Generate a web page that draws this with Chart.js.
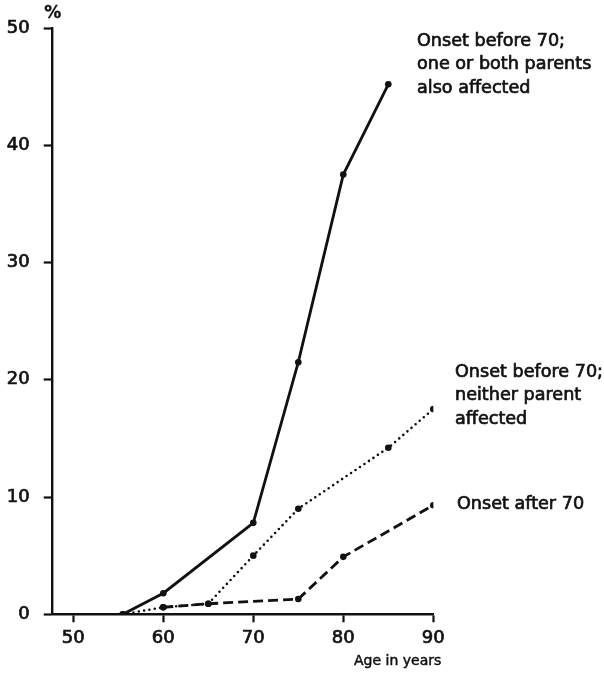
<!DOCTYPE html>
<html>
<head>
<meta charset="utf-8">
<script src="https://cdn.jsdelivr.net/npm/chart.js@4.4.1/dist/chart.umd.min.js"></script>
<style>
  html, body { margin: 0; padding: 0; background: #fff; }
  canvas { display: block; }
</style>
</head>
<body>
<canvas id="c" width="604" height="673"></canvas>
<script>
// Cumulative risk (%) by age, three groups of relatives
const xTicks = [50, 60, 70, 80, 90];
const yTicks = [0, 10, 20, 30, 40, 50];

const agesParentAffected = [55.5, 60, 70, 75, 80, 85];
const pctParentAffected  = [0, 1.8, 7.8, 21.5, 37.5, 45.2];

const agesNeitherParent = [55.5, 60, 65, 70, 75, 85, 90];
const pctNeitherParent  = [0, 0.6, 0.9, 5.0, 9.0, 14.2, 17.5];

const agesLateOnset = [60, 65, 75, 80, 90];
const pctLateOnset  = [0.6, 0.9, 1.3, 4.9, 9.3];

const groupLabels = [
  ["Onset before 70;", "one or both parents", "also affected"],
  ["Onset before 70;", "neither parent", "affected"],
  ["Onset after 70"]
];
const yUnit = "%";
const xTitle = "Age in years";

const INK = "#111";
const FONT = "DejaVu Sans";

function toPoints(xs, ys) {
  return xs.map((x, i) => ({ x: x, y: ys[i] }));
}

// filled text with a hairline outline, for a slightly heavier stroke weight
function heavyText(ctx, t, x, y, w) {
  ctx.fillText(t, x, y);
  ctx.lineWidth = w;
  ctx.strokeText(t, x, y);
}

const textPlugin = {
  id: "groupText",
  afterDraw(chart) {
    const ctx = chart.ctx;
    const a = chart.chartArea;
    ctx.save();
    ctx.fillStyle = INK;
    ctx.strokeStyle = INK;
    ctx.lineJoin = "round";
    ctx.textBaseline = "middle";
    ctx.textAlign = "left";
    ctx.font = "17.6px '" + FONT + "'";
    const blocks = [
      { x: 417, y: 41 },
      { x: 455, y: 372 },
      { x: 457, y: 504 }
    ];
    groupLabels.forEach((lines, i) => {
      lines.forEach((t, j) => heavyText(ctx, t, blocks[i].x, blocks[i].y + j * 23.5, 0.7));
    });
    // unit above the value axis
    ctx.font = "bold 17px '" + FONT + "'";
    ctx.textAlign = "center";
    heavyText(ctx, yUnit, a.left + 1, 14, 0.3);
    // axis title, right aligned under the last tick
    ctx.font = "14px '" + FONT + "'";
    ctx.textAlign = "right";
    heavyText(ctx, xTitle, a.right + 8, 661, 0.5);
    ctx.restore();
  }
};

const marker = { pointRadius: 3.3, pointBackgroundColor: INK, pointBorderColor: INK, pointBorderWidth: 0 };
const tickFont = { family: FONT, size: 18 };

new Chart(document.getElementById("c"), {
  type: "line",
  data: {
    datasets: [
      Object.assign({
        label: groupLabels[0].join(" "),
        data: toPoints(agesParentAffected, pctParentAffected),
        borderColor: INK, borderWidth: 2.8, tension: 0
      }, marker),
      Object.assign({
        label: groupLabels[1].join(" "),
        data: toPoints(agesNeitherParent, pctNeitherParent),
        borderColor: INK, borderWidth: 2.6, borderDash: [0, 5.4], borderCapStyle: "round", tension: 0
      }, marker),
      Object.assign({
        label: groupLabels[2].join(" "),
        data: toPoints(agesLateOnset, pctLateOnset),
        borderColor: INK, borderWidth: 2.8, borderDash: [10, 5], tension: 0
      }, marker)
    ]
  },
  options: {
    responsive: false,
    animation: false,
    devicePixelRatio: 1,
    layout: { padding: { top: 28, right: 170.7, bottom: 18.7, left: 0 } },
    plugins: { legend: { display: false }, tooltip: { enabled: false } },
    scales: {
      x: {
        type: "linear",
        min: 47.6,
        max: 90,
        afterFit(s) { s.height = 40; },
        afterBuildTicks(s) { s.ticks = xTicks.map(v => ({ value: v })); },
        border: { display: true, color: INK, width: 2.4 },
        grid: { drawOnChartArea: false, drawTicks: true, tickLength: 8, tickWidth: 2.2, tickColor: INK },
        ticks: { color: INK, font: tickFont, padding: 5, maxRotation: 0, textStrokeColor: INK, textStrokeWidth: 0.7 }
      },
      y: {
        type: "linear",
        min: 0,
        max: 50,
        afterFit(s) { s.width = 51.7; },
        afterBuildTicks(s) { s.ticks = yTicks.map(v => ({ value: v })); },
        border: { display: true, color: INK, width: 2.4 },
        grid: { drawOnChartArea: false, drawTicks: true, tickLength: 8, tickWidth: 2.2, tickColor: INK },
        ticks: { color: INK, font: tickFont, padding: 14, textStrokeColor: INK, textStrokeWidth: 0.7 }
      }
    }
  },
  plugins: [textPlugin]
});
</script>
</body>
</html>
